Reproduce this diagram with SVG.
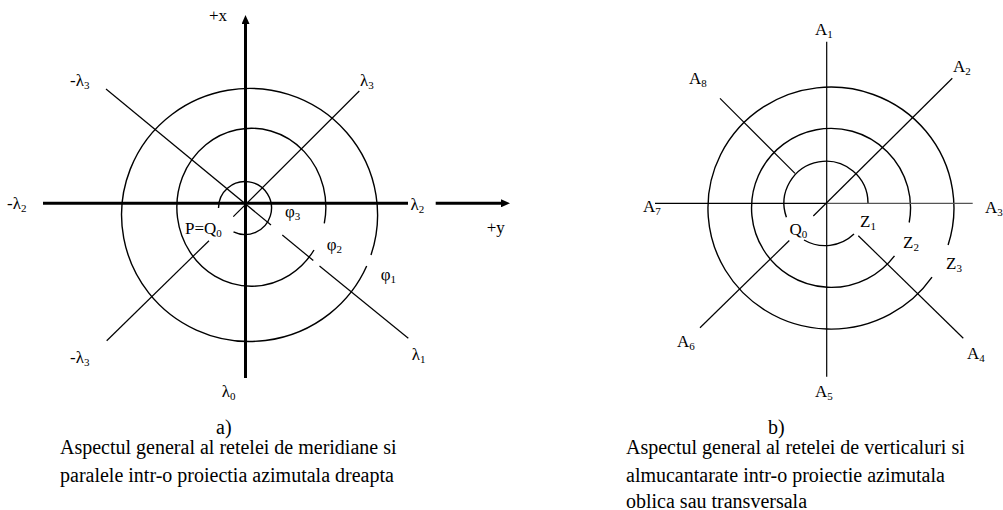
<svg xmlns="http://www.w3.org/2000/svg" width="1003" height="510" viewBox="0 0 1003 510">
<style>
.t{stroke:#000;stroke-width:1.2;fill:none}
.c{stroke:#000;stroke-width:1.4;fill:none}
.ax{stroke:#000;stroke-width:3;fill:none}
text{font-family:"Liberation Serif","Times New Roman",serif;fill:#000}
.l{font-size:17px}
.cap{font-size:20px}
.s{font-size:11px}
</style>
<defs>
<marker id="ah" viewBox="0 -4 9 8" markerWidth="9" markerHeight="8" refX="0" refY="0" orient="auto" markerUnits="userSpaceOnUse">
<path d="M0,-4 L9,0 L0,4 z" fill="#000"/>
</marker>
</defs>
<rect width="1003" height="510" fill="#fff"/>

<g id="diagram-a">
<g id="a-circles">
<path class="c" d="M218.5,208 A26.5,26.5 0 1 1 233.5,231.9"/>
<path class="c" d="M314,250 A74.5,79 0 1 1 324.3,223.3"/>
<path class="c" d="M366.7,266 A128,126.5 0 1 1 371,255"/>
</g>
<g id="a-meridians">
<path class="t" d="M106,89 L271,225"/>
<path class="t" d="M282.3,235 L313.3,260.5"/>
<path class="t" d="M319.5,266 L408.3,338.3"/>
<path class="t" d="M359.3,91 L233.3,216.7"/>
<path class="t" d="M209,240.7 L106.7,340.7"/>
</g>
<g id="a-axes">
<path class="ax" d="M245.5,378 L245.5,24" marker-end="url(#ah)"/>
<path class="ax" d="M43,203.3 L408,203.3"/>
<path class="ax" d="M435.7,203.3 L501,203.3" marker-end="url(#ah)"/>
</g>
<g id="a-labels" class="l">
<text x="209" y="20.5">+x</text>
<text x="486.7" y="233">+y</text>
<text x="360" y="86">λ<tspan class="s" dy="3">3</tspan></text>
<text x="70" y="86">-λ<tspan class="s" dy="3">3</tspan></text>
<text x="7" y="209">-λ<tspan class="s" dy="3">2</tspan></text>
<text x="410.5" y="209.5">λ<tspan class="s" dy="3">2</tspan></text>
<text x="70" y="363">-λ<tspan class="s" dy="3">3</tspan></text>
<text x="411.7" y="360">λ<tspan class="s" dy="3">1</tspan></text>
<text x="221.7" y="397">λ<tspan class="s" dy="3">0</tspan></text>
<text x="185" y="234">P=Q<tspan class="s" dy="3">0</tspan></text>
<text x="285" y="217">φ<tspan class="s" dy="3">3</tspan></text>
<text x="326.7" y="250">φ<tspan class="s" dy="3">2</tspan></text>
<text x="380.7" y="280">φ<tspan class="s" dy="3">1</tspan></text>
</g>
<g id="a-caption" class="cap">
<text x="216" y="434">a)</text>
<text x="60" y="454">Aspectul general al retelei de meridiane si</text>
<text x="60" y="482">paralele intr-o proiectia azimutala dreapta</text>
</g>
</g>

<g id="diagram-b">
<g id="b-circles">
<path class="c" d="M868,203 A42,42 0 1 0 786.4,217.2"/>
<path class="c" d="M804,240 A42,42 0 0 0 854,234"/>
<path class="c" d="M909.2,222.5 A79.5,79.5 0 1 0 894.5,255.8"/>
<path class="c" d="M948.1,245 A123,121 0 1 0 932,277.1"/>
</g>
<g id="b-verticals">
<path class="t" d="M826.7,41.7 L826.7,376.7"/>
<path class="t" d="M655,203.3 L826.7,203.3"/>
<path class="t" d="M826.7,203.3 L972.7,203.3" style="stroke:#555"/>
<path class="t" d="M952.3,78.3 L813.3,216"/>
<path class="t" d="M789.3,240.5 L700,327.7"/>
<path class="t" d="M720,98.3 L795,173.3"/>
<path class="t" d="M858.3,235.7 L963.3,338.3"/>
</g>
<g id="b-labels" class="l">
<text x="815" y="35">A<tspan class="s" dy="3">1</tspan></text>
<text x="953" y="71.7">A<tspan class="s" dy="3">2</tspan></text>
<text x="985" y="213">A<tspan class="s" dy="3">3</tspan></text>
<text x="967" y="359">A<tspan class="s" dy="3">4</tspan></text>
<text x="815" y="396.7">A<tspan class="s" dy="3">5</tspan></text>
<text x="677" y="346.7">A<tspan class="s" dy="3">6</tspan></text>
<text x="643" y="212">A<tspan class="s" dy="3">7</tspan></text>
<text x="689" y="84">A<tspan class="s" dy="3">8</tspan></text>
<text x="789.5" y="235">Q<tspan class="s" dy="3">0</tspan></text>
<text x="860" y="227">Z<tspan class="s" dy="3">1</tspan></text>
<text x="903" y="248">Z<tspan class="s" dy="3">2</tspan></text>
<text x="946" y="269">Z<tspan class="s" dy="3">3</tspan></text>
</g>
<g id="b-caption" class="cap">
<text x="768" y="434">b)</text>
<text x="626" y="454">Aspectul general al retelei de verticaluri si</text>
<text x="626" y="482">almucantarate intr-o proiectie azimutala</text>
<text x="626" y="508">oblica sau transversala</text>
</g>
</g>
</svg>
